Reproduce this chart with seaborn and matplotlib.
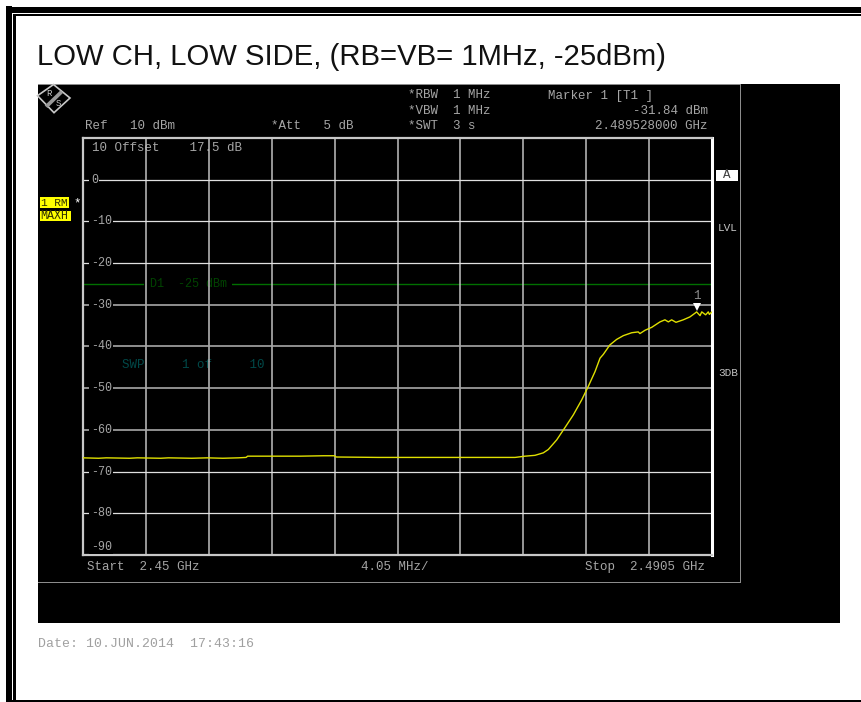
import matplotlib
matplotlib.use('Agg')
import matplotlib.pyplot as plt
from matplotlib.patches import Rectangle, Polygon
import seaborn as sns

# trace
freq_ghz = [2.4500, 2.4510, 2.4515, 2.4530, 2.4535, 2.4550, 2.4555, 2.4570, 2.4580, 2.4590,
            2.4600, 2.4605, 2.4606, 2.4625, 2.4640, 2.4655, 2.4662, 2.4663, 2.4690, 2.4710,
            2.4740, 2.4770, 2.47782, 2.47846, 2.47910, 2.47964, 2.47996, 2.48050, 2.48104,
            2.48157, 2.48211, 2.48253, 2.48297, 2.48329, 2.48350, 2.48393, 2.48436, 2.48479,
            2.48533, 2.48575, 2.48586, 2.48619, 2.48662, 2.48715, 2.48747, 2.48769, 2.48790,
            2.48818, 2.48865, 2.48908, 2.48941, 2.48951, 2.48973, 2.48984, 2.49009, 2.49026,
            2.49033, 2.4905]
level_dbm = [-66.7, -66.8, -66.7, -66.8, -66.7, -66.8, -66.7, -66.8, -66.7, -66.8,
             -66.7, -66.6, -66.3, -66.3, -66.3, -66.2, -66.2, -66.5, -66.6, -66.6,
             -66.6, -66.6, -66.6, -66.3, -66.1, -65.5, -64.7, -62.4, -59.4,
             -56.4, -52.8, -49.6, -46.0, -42.8, -41.9, -39.6, -38.3, -37.4,
             -36.7, -36.5, -36.9, -36.1, -35.4, -34.1, -33.6, -34.1, -33.6,
             -34.2, -33.6, -32.9, -32.0, -31.7, -32.6, -31.7, -32.4, -31.7,
             -32.3, -31.7]

marker_freq = 2.489528
marker_level = -31.84
limit_level = -25
freq_edges = [2.45 + 0.00405 * i for i in range(11)]
level_ticks = [0, -10, -20, -30, -40, -50, -60, -70, -80]
level_labels = ['0', '-10', '-20', '-30', '-40', '-50', '-60', '-70', '-80', '-90']
label_levels = [0, -10, -20, -30, -40, -50, -60, -70, -80, -88]
title = 'LOW CH, LOW SIDE, (RB=VB= 1MHz, -25dBm)'

W, H = 862, 702
GREY = '#a6a6a6'
MONO = 'Liberation Mono'
SIZE = 9

sns.set_theme(style='white')
plt.rcParams['font.family'] = ['Liberation Sans', 'DejaVu Sans']

fig = plt.figure(figsize=(W / 100, H / 100), dpi=100, facecolor='white')


def fx(x):
    return x / W


def fy(y):
    return 1 - y / H


def box(x0, y0, x1, y1, **kw):
    fig.add_artist(Rectangle((fx(x0), fy(y1)), (x1 - x0) / W, (y1 - y0) / H,
                             transform=fig.transFigure, **kw))


def label(x, y, s, color=GREY, ha='left', size=SIZE, zorder=6, **kw):
    return fig.text(fx(x), fy(y), s, color=color, ha=ha, va='center', size=size,
                    family=MONO, zorder=zorder, **kw)


# page frame
box(6, 6, 12, 702, color='black', lw=0)
box(6, 7, 862, 13, color='black', lw=0)
box(13.5, 14, 16, 702, color='black', lw=0)
box(13.5, 14, 862, 16, color='black', lw=0)
box(6, 700, 862, 702, color='black', lw=0)

fig.text(fx(37), fy(57), title, size=21.1, color='#111111', ha='left', va='center')

# instrument screen
box(38, 84, 840, 623, color='black', lw=0, zorder=1)
box(38, 84, 741, 85, color='#8c8c8c', lw=0, zorder=2)
box(740.5, 84, 741.5, 582, color='#8c8c8c', lw=0, zorder=2)
box(38, 582, 741.5, 583, color='#8c8c8c', lw=0, zorder=2)

ax = fig.add_axes([fx(83), fy(555), (712 - 83) / W, (555 - 138) / H], zorder=3)
ax.set_facecolor('black')
ax.set_xlim(freq_edges[0], freq_edges[-1])
ax.set_ylim(-90, 10)
ax.set_xticks(freq_edges[1:-1])
ax.set_yticks(level_ticks)
ax.tick_params(left=False, bottom=False, labelleft=False, labelbottom=False)
ax.grid(True, axis='x', color='#c0c0c0', lw=1.1)
ax.grid(True, axis='y', color='#e0e0e0', lw=0.9)
ax.set_axisbelow(True)
for lev, line in zip(level_ticks, ax.get_ygridlines()):
    if lev in (-30, -40, -50, -60):
        line.set_color('#a8a8a8')
        line.set_linewidth(1.2)
for side in ax.spines.values():
    side.set_color('#c8c8c8')
    side.set_linewidth(1.6)
ax.spines['right'].set_color('white')
ax.spines['right'].set_linewidth(2.2)

ax.axhline(limit_level, color='#007000', lw=1.0, zorder=0.3)
sns.lineplot(x=freq_ghz, y=level_dbm, ax=ax, color='#e0e000', lw=1.0, zorder=4)
ax.plot([marker_freq], [marker_level + 1.3], marker='v', ms=6, color='white', mew=0, zorder=5)
ax.text(marker_freq, marker_level + 4.0, '1', color='#8c8c8c', ha='center', va='center',
        size=SIZE, family=MONO, zorder=5)

for lev, s in zip(label_levels, level_labels):
    ax.text(2.4505, lev, s, color=GREY, ha='left', va='center', size=SIZE - 0.6, family=MONO,
            bbox=dict(fc='black', ec='none', pad=1.0), zorder=3)
ax.text(2.45058, 7.6, '10 Offset    17.5 dB', color=GREY, ha='left', va='center', size=SIZE,
        family=MONO, zorder=0.4)
ax.text(2.45431, limit_level, 'D1  -25 dBm', color='#004400', ha='left', va='center', size=SIZE - 0.5,
        family=MONO, bbox=dict(fc='black', ec='none', pad=4), zorder=0.4)
ax.text(2.45251, -44.4, 'SWP     1 of     10', color='#004848', ha='left', va='center', size=SIZE,
        family=MONO, zorder=0.4)

# header and footer of the screen
label(85, 126, 'Ref   10 dBm')
label(271, 126, '*Att   5 dB')
label(408, 95, '*RBW  1 MHz')
label(408, 111, '*VBW  1 MHz')
label(408, 126, '*SWT  3 s')
label(548, 96, 'Marker 1 [T1 ]')
label(708, 111, '-31.84 dBm', ha='right')
label(708, 126, '2.489528000 GHz', ha='right')
label(87, 567, 'Start  2.45 GHz')
label(361, 567, '4.05 MHz/')
label(705, 567, 'Stop  2.4905 GHz', ha='right')

# side annotations
box(40, 197, 69, 208, color='#ffff00', lw=0, zorder=5)
box(40, 211, 71, 221, color='#ffff00', lw=0, zorder=5)
label(41, 202.5, '1 RM', color='#303000', size=8)
label(40.5, 216, 'MAXH', color='#303000', size=8.4)
label(73, 203, '*', color='white')
box(716, 169.5, 738, 181, color='white', lw=0, zorder=5)
label(727, 175.5, 'A', color='#404040', ha='center')
label(727.5, 228, 'LVL', color='#c0c0c0', ha='center', size=8)
label(728, 372.5, '3DB', color='#c0c0c0', ha='center', size=8)

# logo
fig.add_artist(Polygon([(fx(37.5), fy(95.7)), (fx(53.5), fy(84.5)), (fx(70), fy(98)), (fx(54), fy(112.7))],
                       closed=True, fc='black', ec='#c8c8c8', lw=1.2, zorder=5,
                       transform=fig.transFigure))
fig.add_artist(Polygon([(fx(60.5), fy(90.3)), (fx(63), fy(93)), (fx(47.5), fy(108)), (fx(44.7), fy(105.5))],
                       closed=True, fc='#9a9a9a', ec='none', zorder=6,
                       transform=fig.transFigure))
label(49.3, 94, 'R', color='#c8c8c8', ha='center', size=6.5, zorder=7)
label(58.3, 103.3, 'S', color='#c8c8c8', ha='center', size=6.5, zorder=7)

label(38, 644, 'Date: 10.JUN.2014  17:43:16', color='#a0a0a0', size=9.5)

fig.savefig('out.png', dpi=100, facecolor='white')
